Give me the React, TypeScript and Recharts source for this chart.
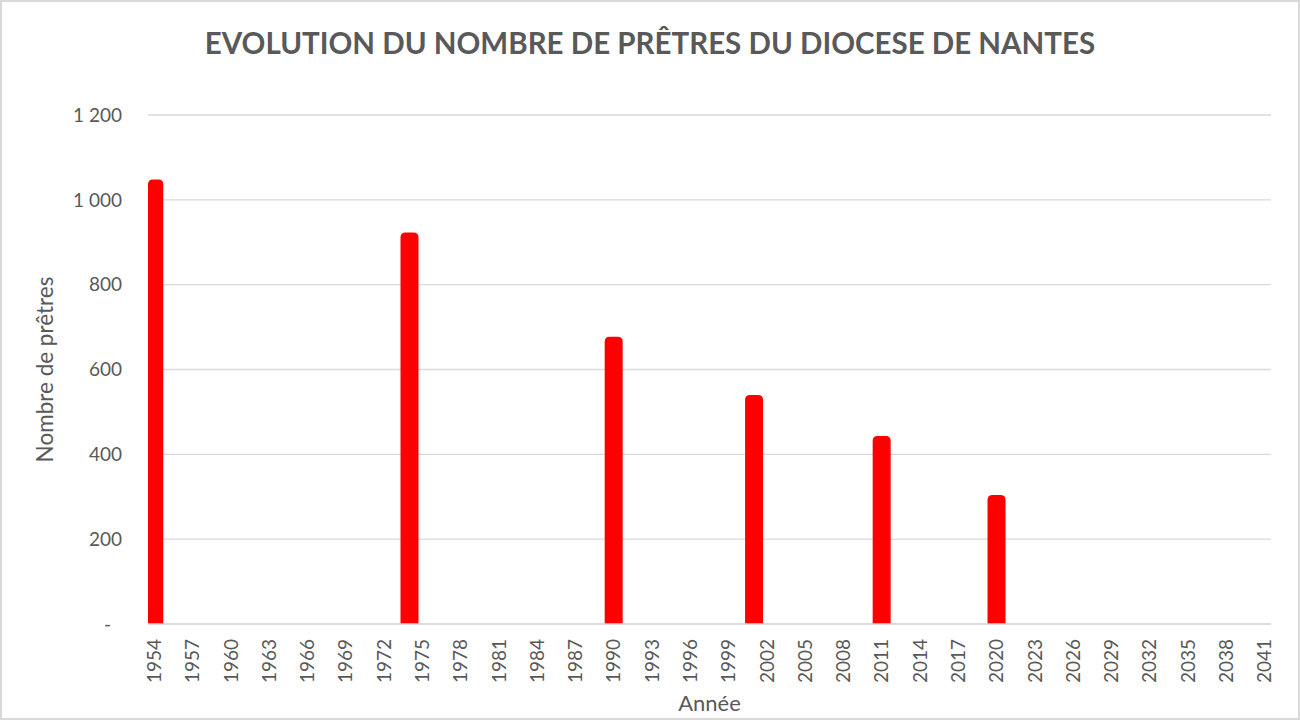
import React from 'react';
import { BarChart, Bar, XAxis, YAxis, CartesianGrid, Label } from 'recharts';

const TITLE = 'EVOLUTION DU NOMBRE DE PRÊTRES DU DIOCESE DE NANTES';
const X_TITLE = 'Année';
const Y_TITLE = 'Nombre de prêtres';

const FIRST_YEAR = 1954;
const LAST_YEAR = 2041;
const categories = Array.from({ length: LAST_YEAR - FIRST_YEAR + 1 }, (_, i) => FIRST_YEAR + i);

const surveyYears = [1954, 1974, 1990, 2001, 2011, 2020];
const priests = [1048, 923, 677, 540, 443, 304];
const yTicks = [0, 200, 400, 600, 800, 1000, 1200];

const data = categories.map((year) => {
  const i = surveyYears.indexOf(year);
  return { year, priests: i >= 0 ? priests[i] : null };
});

const FONT = "Lato, 'Open Sans', sans-serif";
const TEXT = '#595959';
const GRID = '#d9d9d9';
const PLOT_LEFT = 148;
const BAR_W = 18;

const fmtY = (v: number) => {
  if (v === 0) return '-\u2007';
  if (v >= 1000) return `${Math.floor(v / 1000)}\u00a0${String(v % 1000).padStart(3, '0')}`;
  return String(v);
};

const BarShape = (props: any) => {
  const { x, y, width, height } = props;
  if (height == null || !(height > 0)) return null;
  const cx = x + width / 2;
  const left = Math.max(cx - BAR_W / 2, PLOT_LEFT);
  const right = cx + BAR_W / 2;
  const r = 5;
  const bottom = y + height;
  const d = `M${left},${bottom} L${left},${y + r} Q${left},${y} ${left + r},${y} L${right - r},${y} Q${right},${y} ${right},${y + r} L${right},${bottom} Z`;
  return <path d={d} fill="#ff0000" />;
};

const XTick = (props: any) => {
  const { x, y, payload } = props;
  return (
    <text
      x={x}
      y={y}
      transform={`rotate(-90, ${x}, ${y})`}
      textAnchor="end"
      dy="0.35em"
      fill={TEXT}
      fontSize={19}
      fontFamily={FONT}
    >
      {payload.value}
    </text>
  );
};

export default function App() {
  return (
    <div style={{ position: 'absolute', left: 0, top: 0, width: 1300, height: 720, background: '#fff' }}>
      <div
        style={{
          position: 'absolute',
          left: 0,
          top: 24,
          width: 1300,
          textAlign: 'center',
          fontFamily: FONT,
          fontWeight: 700,
          fontSize: 29.5,
          lineHeight: '38px',
          color: TEXT,
        }}
      >
        {TITLE}
      </div>
      <div style={{ position: 'absolute', left: 0, top: 0 }}>
        <BarChart width={1300} height={720} data={data} margin={{ top: 115, right: 29, left: 0, bottom: 0 }}>
          <CartesianGrid vertical={false} stroke={GRID} strokeWidth={1.3} />
          <XAxis
            dataKey="year"
            interval={2}
            height={96}
            tickSize={0}
            tickMargin={15}
            tickLine={false}
            axisLine={{ stroke: GRID, strokeWidth: 1.3 }}
            tick={<XTick />}
          >
            <Label
              content={(p: any) => {
                const vb = p.viewBox || {};
                return (
                  <text
                    x={vb.x + vb.width / 2}
                    y={vb.y + 79}
                    dy="0.35em"
                    textAnchor="middle"
                    fill={TEXT}
                    fontSize={22}
                    fontFamily={FONT}
                  >
                    {X_TITLE}
                  </text>
                );
              }}
            />
          </XAxis>
          <YAxis
            width={148}
            domain={[0, 1200]}
            ticks={yTicks}
            tickFormatter={fmtY}
            tickSize={0}
            tickMargin={26}
            tickLine={false}
            axisLine={false}
            tick={{ fill: TEXT, fontSize: 19, fontFamily: FONT }}
          >
            <Label
              content={(p: any) => {
                const vb = p.viewBox || {};
                const cx = vb.x + 45;
                const cy = vb.y + vb.height / 2;
                return (
                  <text
                    x={cx}
                    y={cy}
                    dy="0.35em"
                    transform={`rotate(-90, ${cx}, ${cy})`}
                    textAnchor="middle"
                    fill={TEXT}
                    fontSize={22.5}
                    fontFamily={FONT}
                  >
                    {Y_TITLE}
                  </text>
                );
              }}
            />
          </YAxis>
          <Bar dataKey="priests" isAnimationActive={false} shape={<BarShape />} />
        </BarChart>
      </div>
      <div
        style={{
          position: 'absolute',
          left: 0,
          top: 0,
          width: 1300,
          height: 720,
          boxSizing: 'border-box',
          border: '2px solid #d9d9d9',
          pointerEvents: 'none',
        }}
      />
    </div>
  );
}
